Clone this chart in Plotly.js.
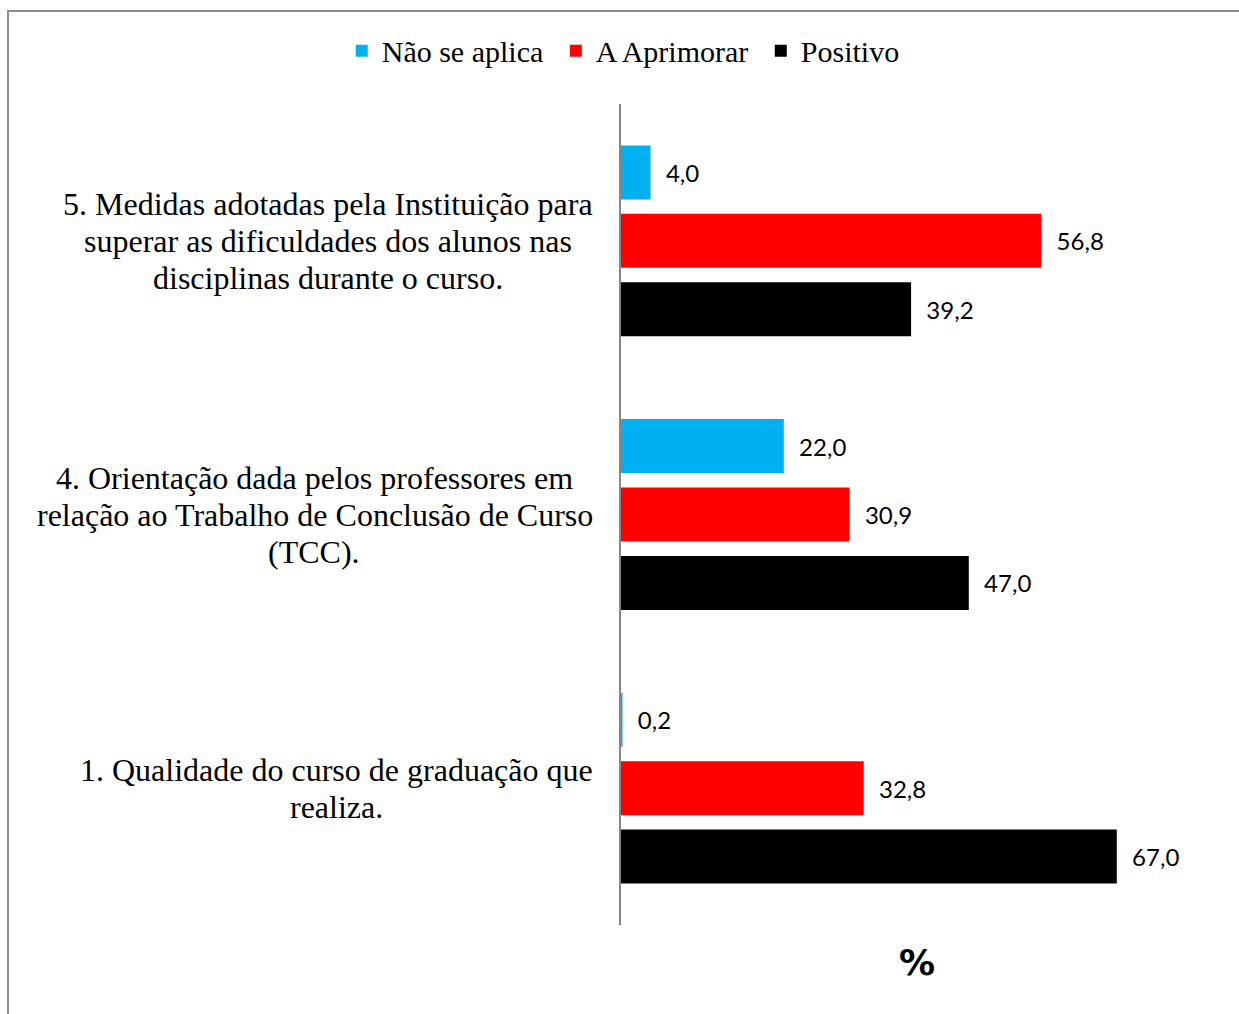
<!DOCTYPE html>
<html>
<head>
<meta charset="utf-8">
<script src="https://cdn.plot.ly/plotly-3.0.1.min.js"></script>
<style>
html,body{margin:0;padding:0;background:#fff;}
#wrap{position:relative;width:1239px;height:1014px;overflow:hidden;}
#plot{position:absolute;left:0;top:0;width:1239px;height:1014px;}
#frame{position:absolute;left:7px;top:10px;width:1300px;height:1100px;border-left:2px solid #8c8c8c;border-top:2px solid #8c8c8c;pointer-events:none;}
</style>
</head>
<body>
<div id="wrap"><div id="plot"></div><div id="frame"></div></div>
<script>
const categories = ["1.", "4.", "5."];
const categoryLabels = [
  ["1. Qualidade do curso de graduação que", "realiza."],
  ["4. Orientação dada pelos professores em", "relação ao Trabalho de Conclusão de Curso", "(TCC)."],
  ["5. Medidas adotadas pela Instituição para", "superar as dificuldades dos alunos nas", "disciplinas durante o curso."]
];
const seriesNames = ["Não se aplica", "A Aprimorar", "Positivo"];
const naoSeAplica = [0.2, 22.0, 4.0];
const aAprimorar = [32.8, 30.9, 56.8];
const positivo = [67.0, 47.0, 39.2];

const fmt = v => v.toFixed(1).replace('.', ',');
const labelFont = {family: 'Lato, "Open Sans", sans-serif', size: 24, color: '#000'};
const serif = '"Liberation Serif", "Times New Roman", serif';
const catSize = 32;
const lineH = 37;

function mk(name, vals, color) {
  return {
    type: 'bar', orientation: 'h', name: name,
    y: categories, x: vals,
    marker: {color: color},
    text: vals.map(fmt),
    texttemplate: '\u00a0\u00a0%{text}',
    textposition: 'outside',
    textfont: labelFont,
    cliponaxis: false,
    hoverinfo: 'skip'
  };
}

const data = [
  mk(seriesNames[2], positivo, '#000000'),
  mk(seriesNames[1] + '\u00a0', aAprimorar, '#ff0000'),
  mk(seriesNames[0] + '\u00a0', naoSeAplica, '#00b0f0')
];

const ctx = document.createElement('canvas').getContext('2d');
ctx.font = catSize + 'px ' + serif;
const annotations = [];
categories.forEach((c, i) => {
  const lines = categoryLabels[i];
  const widths = lines.map(s => ctx.measureText(s).width);
  const maxW = Math.max.apply(null, widths);
  const n = lines.length;
  lines.forEach((s, j) => {
    annotations.push({
      xref: 'paper', yref: 'y', x: 0, y: i,
      xanchor: 'right', yanchor: 'middle',
      xshift: -26 - (maxW - widths[j]) / 2,
      yshift: ((n - 1) / 2 - j) * lineH,
      showarrow: false, text: s,
      font: {family: serif, size: catSize, color: '#000'}
    });
  });
});

const layout = {
  width: 1239, height: 1014,
  margin: {l: 621, r: 26, t: 104, b: 89},
  paper_bgcolor: 'rgba(0,0,0,0)', plot_bgcolor: 'rgba(0,0,0,0)',
  barmode: 'group', bargap: 0.25, bargroupgap: 0.21,
  showlegend: true,
  legend: {
    orientation: 'h', traceorder: 'reversed',
    xref: 'container', yref: 'container',
    x: 0.503, xanchor: 'center', y: 0.950, yanchor: 'middle',
    font: {family: serif, size: 30, color: '#000'},
    itemwidth: 30
  },
  xaxis: {
    range: [0, 80], showgrid: false, zeroline: false, showline: false,
    showticklabels: false, ticks: '', fixedrange: true,
    title: {text: '%', font: {family: '"DejaVu Sans", sans-serif', size: 36, color: '#000', weight: 'bold'}, standoff: 24}
  },
  yaxis: {
    type: 'category', categoryorder: 'array', categoryarray: categories,
    range: [-0.5, categories.length - 0.5], autorange: false,
    showgrid: false, zeroline: false, showline: true,
    linecolor: '#868686', linewidth: 2,
    showticklabels: false, ticks: '', fixedrange: true
  },
  annotations: annotations
};

Plotly.newPlot('plot', data, layout, {displayModeBar: false, staticPlot: true});
</script>
</body>
</html>
